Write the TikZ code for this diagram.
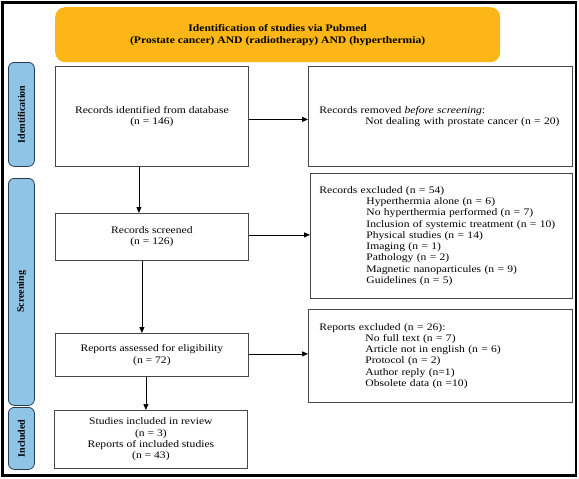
\documentclass[tikz,border=0pt]{standalone}
\usepackage{fontspec}
\setmainfont[FakeStretch=1.16]{Liberation Serif}
\newfontfamily\plainserif{Liberation Serif}
\usetikzlibrary{arrows.meta,calc}
\definecolor{titleorange}{RGB}{252,182,24}
\definecolor{labelblue}{RGB}{142,196,230}
\definecolor{labelborder}{RGB}{40,60,80}
\definecolor{boxborder}{RGB}{70,70,70}
\begin{document}
\begin{tikzpicture}[x=1pt,y=-1pt,
  every node/.style={font=\fontsize{10}{11.3}\selectfont},
  flowbox/.style={draw=boxborder,line width=0.8pt,fill=white,anchor=north west,inner sep=0pt,align=center},
  listbox/.style={draw=boxborder,line width=0.8pt,fill=white,anchor=north west,inner sep=0pt,align=left},
  sidelabel/.style={draw=labelborder,line width=0.8pt,fill=labelblue,rounded corners=6pt,anchor=north west,inner sep=0pt},
  sidetext/.style={rotate=90,font=\plainserif\fontsize{10}{12}\selectfont\bfseries},
  arr/.style={draw=black,line width=0.8pt,-{Triangle[length=6pt,width=5pt]}}]
\useasboundingbox (0,0) rectangle (579,479);
\fill[white] (0,0) rectangle (579,479);
\draw[line width=2.6pt] (2.5,2.5) rectangle (576,475.5);

% title
\node[fill=titleorange,rounded corners=10pt,anchor=north west,minimum width=445pt,minimum height=55pt,inner sep=0pt,align=center,font=\fontsize{10}{12}\selectfont\bfseries] (title) at (55,7)
  {Identification of studies via Pubmed\\(Prostate cancer) AND (radiotherapy) AND (hyperthermia)};

% side labels
\node[sidelabel,minimum width=26pt,minimum height=104pt] (lid) at (8,62) {};
\node[sidetext] (lidt) at (lid.center) {Identification};
\node[sidelabel,minimum width=26pt,minimum height=227pt] (lsc) at (8,178) {};
\node[sidetext] (lsct) at (lsc.center) {Screening};
\node[sidelabel,minimum width=26pt,minimum height=62pt] (lin) at (8,407) {};
\node[sidetext] (lint) at (lin.center) {Included};

% left column
\node[flowbox,minimum width=193pt,minimum height=100pt] (ident) at (55,66)
  {Records identified from database\\(n = 146)};
\node[flowbox,minimum width=193pt,minimum height=47pt] (screened) at (55,213)
  {Records screened\\(n = 126)};
\node[flowbox,minimum width=193pt,minimum height=43pt] (assessed) at (55,333)
  {Reports assessed for eligibility\\(n = 72)};
\node[flowbox,minimum width=193pt,minimum height=58pt] (included) at (54,410)
  {Studies included in review\\(n = 3)\\Reports of included studies\\(n = 43)};

% right column
\node[listbox,minimum width=264pt,minimum height=100pt,text width=264pt] (removed) at (308,66)
  {\hspace*{11pt}Records removed \textit{before screening}:\\
   \hspace*{57pt}Not dealing with prostate cancer (n = 20)};
\node[listbox,minimum width=262pt,minimum height=125pt,text width=262pt] (excluded) at (310,173)
  {\hspace*{9pt}Records excluded (n = 54)\\
   \hspace*{56pt}Hyperthermia alone (n = 6)\\
   \hspace*{56pt}No hyperthermia performed (n = 7)\\
   \hspace*{56pt}Inclusion of systemic treatment (n = 10)\\
   \hspace*{56pt}Physical studies (n = 14)\\
   \hspace*{56pt}Imaging (n = 1)\\
   \hspace*{56pt}Pathology (n = 2)\\
   \hspace*{56pt}Magnetic nanoparticules (n = 9)\\
   \hspace*{56pt}Guidelines (n = 5)};
\node[listbox,minimum width=264pt,minimum height=93pt,text width=264pt] (rexcl) at (308,309)
  {\hspace*{11pt}Reports excluded (n = 26):\\
   \hspace*{57pt}No full text (n = 7)\\
   \hspace*{57pt}Article not in english (n = 6)\\
   \hspace*{57pt}Protocol (n = 2)\\
   \hspace*{57pt}Author reply (n=1)\\
   \hspace*{57pt}Obsolete data (n =10)\\[6pt]};

% connectors
\draw[arr] ([yshift=-3pt]ident.east) -- ([yshift=-3pt]ident.east -| removed.west);
\draw[arr] ([yshift=2pt]screened.east) -- ([yshift=2pt]screened.east -| excluded.west);
\draw[arr] ([yshift=1pt]assessed.east) -- ([yshift=1pt]assessed.east -| rexcl.west);
\draw[arr] ([xshift=-13pt]ident.south) -- ([xshift=-13pt]ident.south |- screened.north);
\draw[arr] ([xshift=-10pt]screened.south) -- ([xshift=-10pt]screened.south |- assessed.north);
\draw[arr] ([xshift=-6pt]assessed.south) -- ([xshift=-6pt]assessed.south |- included.north);
\end{tikzpicture}
\end{document}
